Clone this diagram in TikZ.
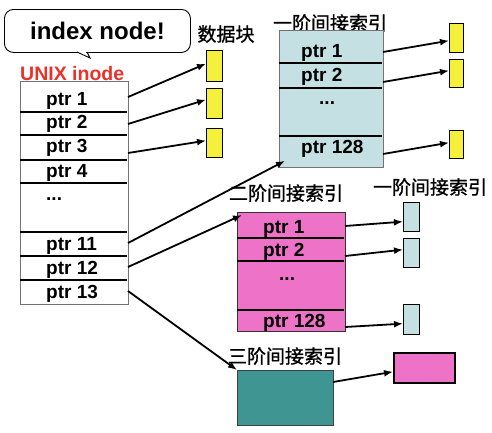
\documentclass[tikz,border=0pt]{standalone}
\usepackage{fontspec}
\setmainfont{Liberation Sans}
\newfontfamily\cjk[FakeBold=1]{Noto Sans CJK SC}
\usetikzlibrary{arrows.meta}
\definecolor{blkyellow}{RGB}{245,240,60}
\definecolor{lblue}{RGB}{196,224,226}
\definecolor{lpink}{RGB}{238,114,200}
\definecolor{lteal}{RGB}{63,149,146}
\definecolor{inred}{RGB}{235,50,40}
\begin{document}
\begin{tikzpicture}[x=1pt,y=-1pt,
  rowtxt/.style={anchor=base west, inner sep=0, font=\fontsize{19}{21}\selectfont\bfseries},
  sepline/.style={line width=1.5pt},
  ptrarrow/.style={line width=1.8pt, -{Latex[length=9pt,width=7pt]}},
  cjklabel/.style={inner sep=0, font=\fontsize{19}{21}\selectfont\cjk},
  tablebox/.style={anchor=north west, inner sep=0, line width=0.8pt},
  datablk/.style={draw, line width=1.3pt, fill=blkyellow, anchor=north west, minimum width=16, minimum height=30, inner sep=0},
  idxblk/.style={draw, line width=1.3pt, fill=lblue, anchor=north west, minimum width=16, minimum height=29, inner sep=0},
]
\useasboundingbox (0,0) rectangle (492,432);

% callout
\node[draw, line width=0.9pt, rounded corners=9pt, anchor=north west, minimum width=186, minimum height=43, inner sep=0,
      font=\fontsize{24}{26}\selectfont\bfseries] (callout) at (4,9) {index node!};
\fill[white] (77.8,50) rectangle (86.2,53.5);
\draw[line width=0.9pt] (77,52) -- (90,58) -- (87,52);

% UNIX inode table
\node[anchor=base west, inner sep=0, text=inred, font=\fontsize{19.5}{21}\selectfont\bfseries] (unixlbl) at (20,80) {UNIX inode};
\node[tablebox, draw=gray!90!black, minimum width=108, minimum height=223] (inode) at (20,81) {};
\foreach \yy in {112,135,160,183,232,256,280} \draw[sepline] (20,\yy) -- (127,\yy);
\node[rowtxt] (ip1) at (46,105) {ptr 1};
\node[rowtxt] (ip2) at (46,128) {ptr 2};
\node[rowtxt] (ip3) at (46,152) {ptr 3};
\node[rowtxt] (ip4) at (46,177) {ptr 4};
\node[rowtxt] (ipd) at (46,200) {...};
\node[rowtxt] (ip11) at (46,250) {ptr 11};
\node[rowtxt] (ip12) at (46,274) {ptr 12};
\node[rowtxt] (ip13) at (46,298) {ptr 13};
\coordinate (s1) at (128,97);
\coordinate (s2) at (128,124);
\coordinate (s3) at (128,153);
\coordinate (s11) at (128,243);
\coordinate (s12) at (128,267);
\coordinate (s13) at (128,291);

% data blocks
\node[cjklabel] (datalbl) at (226,34) {数据块};
\node[datablk, minimum height=31] (d1) at (206,50) {};
\node[datablk] (d2) at (206,88) {};
\node[datablk, minimum height=29] (d3) at (206,128) {};
\draw[ptrarrow] (s1) -- ([yshift=2.5pt]d1.west);
\draw[ptrarrow] (s2) -- ([yshift=4pt]d2.west);
\draw[ptrarrow] (s3) -- ([yshift=2.5pt]d3.west);

% first-level index
\node[cjklabel] (l1lbl) at (330,23) {一阶间接索引};
\node[tablebox, draw=gray!90!black, fill=lblue, minimum width=104, minimum height=137] (L1) at (279,30) {};
\foreach \yy in {63,88,136} \draw[sepline] (279,\yy) -- (382,\yy);
\node[rowtxt] (a1) at (301,57) {ptr 1};
\node[rowtxt] (a2) at (301,81) {ptr 2};
\node[rowtxt] (ad) at (319,104) {...};
\node[rowtxt] (a128) at (301,153) {ptr 128};
\coordinate (t1) at (383,52);
\coordinate (t2) at (383,82);
\coordinate (t3) at (383,154);
\node[datablk, minimum width=14, minimum height=29] (e1) at (449,23) {};
\node[datablk, minimum width=14, minimum height=28] (e2) at (449,59) {};
\node[datablk, minimum width=14, minimum height=28] (e3) at (449,130) {};
\draw[ptrarrow] (t1) -- ([yshift=-2.5pt]e1.west);
\draw[ptrarrow] (t2) -- ([yshift=3pt]e2.west);
\draw[ptrarrow] (t3) -- ([yshift=2pt]e3.west);
\draw[ptrarrow] (s11) -- ([shift={(6pt,7pt)}]L1.south west);

% second-level index
\node[cjklabel] (l2lbl) at (286,193) {二阶间接索引};
\node[tablebox, draw=black!80, fill=lpink, minimum width=108, minimum height=119] (L2) at (237,212) {};
\foreach \yy in {238,261,310} \draw[sepline] (237,\yy) -- (344,\yy);
\node[rowtxt] (b1) at (263,233) {ptr 1};
\node[rowtxt] (b2) at (263,256) {ptr 2};
\node[rowtxt] (bd) at (279,280) {...};
\node[rowtxt] (b128) at (263,327) {ptr 128};
\coordinate (u1) at (345,226);
\coordinate (u2) at (345,256);
\coordinate (u3) at (345,327);
\node[cjklabel] (l1lblb) at (430,187) {一阶间接索引};
\node[idxblk] (f1) at (403,202) {};
\node[idxblk] (f2) at (403,238) {};
\node[idxblk, minimum height=30] (f3) at (403,304) {};
\draw[ptrarrow] (u1) -- ([yshift=-4.5pt]f1.west);
\draw[ptrarrow] (u2) -- ([yshift=3.5pt]f2.west);
\draw[ptrarrow] (u3) -- ([yshift=-4pt]f3.west);
\draw[ptrarrow] (s12) -- ([shift={(5pt,-3pt)}]L2.north west);

% third-level index
\node[cjklabel] (l3lbl) at (285,356) {三阶间接索引};
\node[tablebox, draw=black!75, fill=lteal, minimum width=96, minimum height=55] (L3) at (237,370) {};
\node[draw, line width=1.5pt, fill=lpink, anchor=north west, minimum width=61, minimum height=30, inner sep=0] (g1) at (393,352) {};
\coordinate (v1) at (333,382);
\draw[ptrarrow] (s13) -- (L3.north west);
\draw[ptrarrow] (v1) -- ([yshift=-4pt]g1.west);
\end{tikzpicture}
\end{document}
